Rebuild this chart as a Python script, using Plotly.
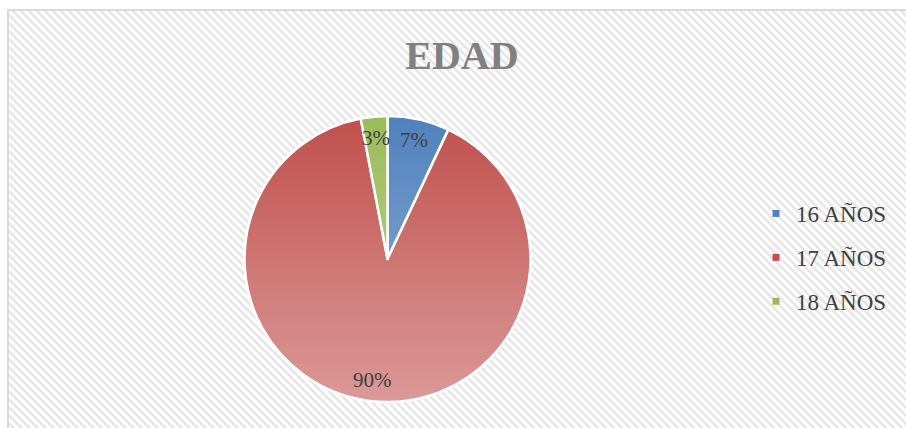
import base64
import math
import plotly.graph_objects as go

# ---- data ----
categories = ["16 AÑOS", "17 AÑOS", "18 AÑOS"]
values = [7, 90, 3]
slice_colors = ["#4F81BD", "#C0504D", "#9BBB59"]

W, H = 906, 428
dom_x = [244 / W, 531 / W]
dom_y = [(H - 402) / H, (H - 116) / H]

# striped background (decoration)
bg_svg = f'''<svg xmlns="http://www.w3.org/2000/svg" width="{W}" height="{H}" viewBox="0 0 {W} {H}">
<defs><pattern id="p" width="5.66" height="5.66" patternUnits="userSpaceOnUse" patternTransform="rotate(-45)">
<rect x="0" y="0" width="5.66" height="5.66" fill="#ffffff"/>
<rect x="0" y="0" width="2.6" height="5.66" fill="#e6e6e6"/></pattern></defs>
<rect x="0" y="0" width="{W}" height="{H}" fill="#ffffff"/>
<rect x="8" y="10" width="{W}" height="{H}" fill="url(#p)" stroke="#d9d9d9" stroke-width="2"/>
</svg>'''

# pie geometry in pixels (derived from the domain)
cx = (dom_x[0] + dom_x[1]) / 2 * W
cy = (1 - (dom_y[0] + dom_y[1]) / 2) * H
R = min((dom_x[1] - dom_x[0]) * W, (dom_y[1] - dom_y[0]) * H) / 2

# vertical light gradient over the pie (style overlay)
gr_svg = f'''<svg xmlns="http://www.w3.org/2000/svg" width="{W}" height="{H}" viewBox="0 0 {W} {H}">
<defs><linearGradient id="g" x1="0" y1="0" x2="0" y2="1">
<stop offset="0" stop-color="#ffffff" stop-opacity="0"/>
<stop offset="1" stop-color="#ffffff" stop-opacity="0.42"/></linearGradient></defs>
<circle cx="{cx:.2f}" cy="{cy:.2f}" r="{R:.2f}" fill="url(#g)"/>
</svg>'''


def uri(s):
    return "data:image/svg+xml;base64," + base64.b64encode(s.encode()).decode()


fig = go.Figure()
fig.add_trace(go.Pie(
    labels=categories, values=values, sort=False, direction="clockwise", rotation=0,
    marker=dict(colors=slice_colors, line=dict(color="white", width=2.5)),
    textinfo="none", domain=dict(x=dom_x, y=dom_y),
    showlegend=False, hoverinfo="label+percent",
))
for name, col in zip(categories, slice_colors):
    fig.add_trace(go.Scatter(
        x=[None], y=[None], mode="markers", name=name, legendgroup=name,
        marker=dict(symbol="square", size=7, color=col),
    ))

# percentage labels placed along each slice's bisector
total = sum(values)
annotations = []
cum = 0
for v in values:
    mid = (cum + v / 2) / total * 2 * math.pi
    cum += v
    px = cx + 0.85 * R * math.sin(mid)
    py = cy - 0.85 * R * math.cos(mid)
    annotations.append(dict(
        x=px / W, y=1 - py / H, xref="paper", yref="paper", showarrow=False,
        text=f"{round(v / total * 100)}%", xanchor="center", yanchor="middle",
        font=dict(family="Liberation Serif", size=21, color="#404040"),
    ))

fig.update_layout(
    width=W, height=H,
    margin=dict(l=0, r=0, t=0, b=0),
    paper_bgcolor="white", plot_bgcolor="rgba(0,0,0,0)",
    xaxis=dict(visible=False), yaxis=dict(visible=False),
    images=[
        dict(source=uri(bg_svg), xref="paper", yref="paper", x=0, y=1, sizex=1, sizey=1,
             xanchor="left", yanchor="top", sizing="stretch", layer="below"),
        dict(source=uri(gr_svg), xref="paper", yref="paper", x=0, y=1, sizex=1, sizey=1,
             xanchor="left", yanchor="top", sizing="stretch", layer="above"),
    ],
    annotations=annotations,
    title=dict(text="<b>EDAD</b>", x=462 / W, xanchor="center", y=1 - 55 / H, yanchor="middle",
               font=dict(family="Liberation Serif", size=40, color="#808080")),
    legend=dict(x=(796 - 40) / W, xanchor="left", y=1 - 192 / H, yanchor="top",
                font=dict(family="Liberation Serif", size=23, color="#404040"),
                tracegroupgap=11, bgcolor="rgba(0,0,0,0)"),
)
fig.write_html("out.html", config={"displayModeBar": False},
               post_script="document.body.style.margin='0';document.body.style.overflow='hidden';")
